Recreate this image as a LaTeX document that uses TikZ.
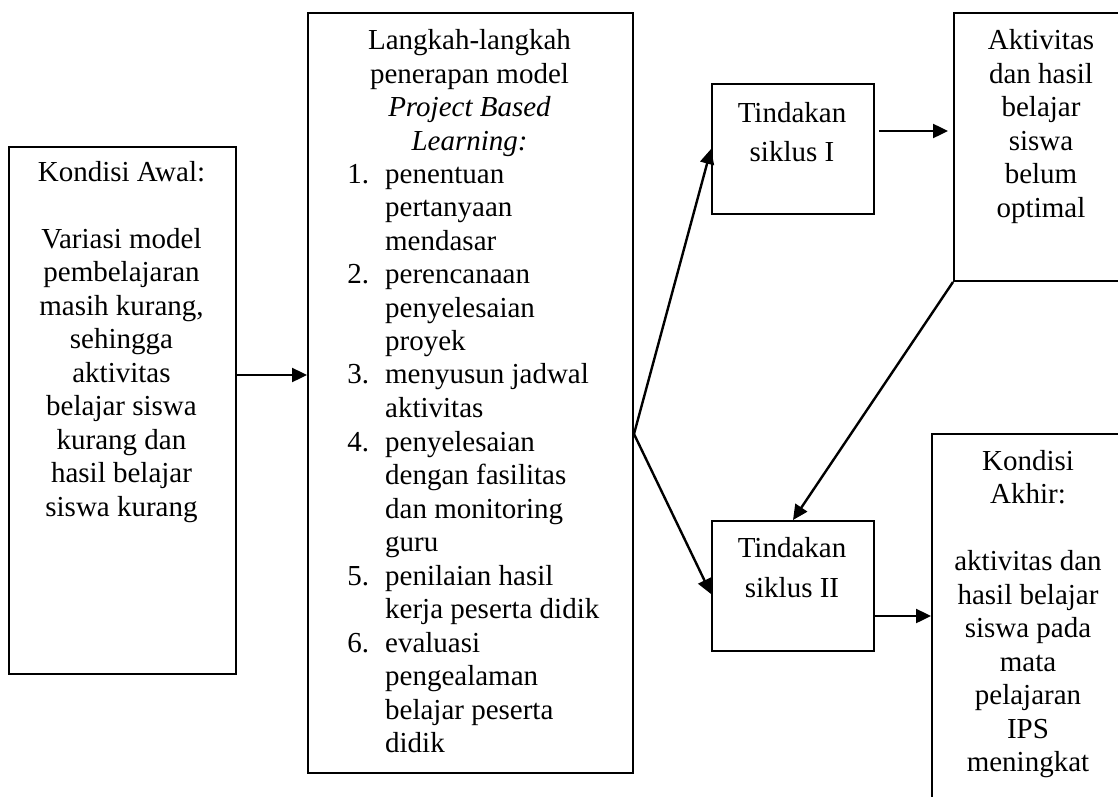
\documentclass[tikz,border=0pt]{standalone}
\usepackage{fontspec}
\setmainfont{Liberation Serif}
\usetikzlibrary{arrows.meta,calc}
\newcommand{\baris}[1]{\begin{tabular}[t]{@{}c@{}}#1\end{tabular}}

\begin{document}
\begin{tikzpicture}[x=0.5pt,y=-0.5pt,>={Triangle[length=7.5pt,width=7pt]},
  kotak/.style={draw,line width=1pt,anchor=north west,inner sep=0pt},
  teks/.style={inner sep=0pt,anchor=base,font={\fontsize{14.5}{16.75}\selectfont}},
  panah/.style={->,line width=1.2pt}]
\useasboundingbox (0,0) rectangle (1118,797);
\clip (0,0) rectangle (1118,797);
% kondisi awal
\node[kotak,minimum width=113.5pt,minimum height=263.5pt] (awal) at (8,146) {};
\node[teks] (awal-t) at (121.5,181) {\baris{Kondisi Awal:\\ \\ Variasi model\\pembelajaran\\masih kurang,\\sehingga\\aktivitas\\belajar siswa\\kurang dan\\hasil belajar\\siswa kurang}};
% langkah-langkah PjBL
\node[kotak,minimum width=162.5pt,minimum height=380pt] (langkah) at (307,12) {};
\node[teks] (langkah-t) at (469.5,50) {\baris{Langkah-langkah\\penerapan model\\\textit{Project Based}\\\textit{Learning:}}};
\node[teks,anchor=base west] (langkah-l) at (347,183) {\begin{tabular}[t]{@{}l@{\hspace{8pt}}l@{}}
1. & penentuan\\ & pertanyaan\\ & mendasar\\
2. & perencanaan\\ & penyelesaian\\ & proyek\\
3. & menyusun jadwal\\ & aktivitas\\
4. & penyelesaian\\ & dengan fasilitas\\ & dan monitoring\\ & guru\\
5. & penilaian hasil\\ & kerja peserta didik\\
6. & evaluasi\\ & pengealaman\\ & belajar peserta\\ & didik
\end{tabular}};
% siklus
\node[kotak,minimum width=81pt,minimum height=65pt] (siklusI) at (711,83) {};
\node[teks,font={\fontsize{14.5}{20}\selectfont}] (siklusI-t) at (792,122) {\baris{Tindakan\\siklus I}};
\node[kotak,minimum width=81pt,minimum height=65pt] (siklusII) at (711,520) {};
\node[teks,font={\fontsize{14.5}{20}\selectfont}] (siklusII-t) at (792,557) {\baris{Tindakan\\siklus II}};
% hasil
\node[kotak,minimum width=88pt,minimum height=134pt] (aktivitas) at (953,12) {};
\node[teks] (aktivitas-t) at (1041,50) {\baris{Aktivitas\\dan hasil\\belajar\\siswa\\belum\\optimal}};
\node[kotak,minimum width=97pt,minimum height=200pt] (akhir) at (931,433) {};
\node[teks] (akhir-t) at (1028,470) {\baris{Kondisi\\Akhir:\\ \\aktivitas dan\\hasil belajar\\siswa pada\\mata\\pelajaran\\IPS\\meningkat}};
% panah
\coordinate (m1) at ($(awal.east)+(0,-35.5)$);
\draw[panah] (m1) -- (m1 -| langkah.west);
\coordinate (pisah) at ($(langkah.east)+(0,41)$);
\draw[panah] (pisah) -- (siklusI.west);
\draw[panah] (pisah) -- ($(siklusII.west)+(0,8)$);
\coordinate (m2) at ($(siklusI.east)+(0,-18)$);
\draw[panah,shorten <=2pt,shorten >=2.5pt] (m2) -- (m2 -| aktivitas.west);
\draw[panah] (aktivitas.south west) -- (siklusII.north);
\coordinate (m3) at ($(siklusII.east)+(0,30)$);
\draw[panah] (m3) -- (m3 -| akhir.west);
\end{tikzpicture}
\end{document}
